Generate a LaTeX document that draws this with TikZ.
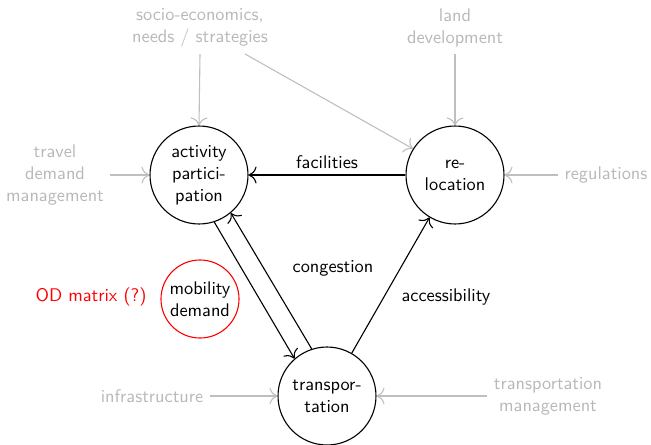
\documentclass[tikz,border=0pt]{standalone}
\usepackage{tikz}
\usetikzlibrary{arrows.meta}
\tikzstyle{proc}=[draw,circle,minimum size=53.5pt,inner sep=1pt,align=center]
\tikzstyle{ext}=[text=black!28,align=center]
\tikzstyle{inflow}=[->,draw=black!25]

\begin{document}
\begin{tikzpicture}[x=0.546pt,y=-0.546pt,semithick,font=\sffamily,>={To[scale=1.5]}]
\useasboundingbox (0,0) rectangle (651,444);
% the three model parts
\node [proc] (act) at (199,175) {activity\\partici-\\pation};
\node [proc] (reloc) at (455,175) {re-\\location};
\node [proc] (trans) at (327,396) {transpor-\\tation};
\node [proc,draw=red,minimum size=42.6pt] (mob) at (200,299) {mobility\\demand};
\node [text=red] (od) at (91,297) {OD matrix (?)};

% outside influences
\node [ext] (socio) at (200,28) {socio-economics,\\needs / strategies};
\node [ext] (land) at (455,28) {land\\development};
\node [ext] (travel) at (55,175) {travel\\demand\\management};
\node [ext] (regul) at (606,175) {regulations};
\node [ext] (infra) at (152,396) {infrastructure};
\node [ext] (tmgmt) at (548,396) {transportation\\management};

\draw [inflow] (socio.south) -- (act.north);
\draw [inflow] (socio.-30) -- (reloc.148);
\draw [inflow] (land.south) -- (reloc.north);
\draw [inflow] (travel.east) -- (act.west);
\draw [inflow] (regul.west) -- (reloc.east);
\draw [inflow] (infra.east) -- (trans.west);
\draw [inflow] (tmgmt.west) -- (trans.east);

% feedback between the parts
\draw [->] (reloc) -- node [above] {facilities} (act);
\draw [->] (act.-72) -- (trans.131);
\draw [->] (trans.108) -- (act.-50);
\draw [->] (trans.60) -- (reloc.-121);
\node (cong) at (333,268) {congestion};
\node (acc) at (446,297) {accessibility};
\end{tikzpicture}
\end{document}
